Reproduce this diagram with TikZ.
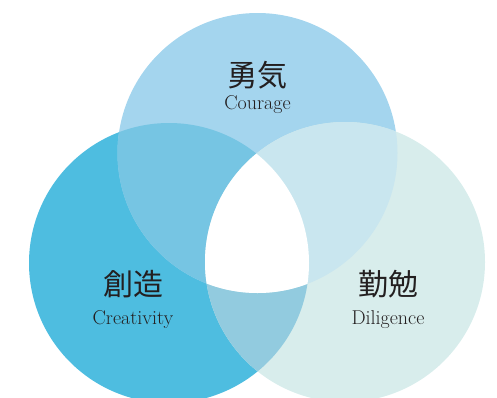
\documentclass[tikz,border=0pt]{standalone}
\usepackage{fontspec}
\newfontfamily\cjk{Noto Sans CJK JP}
\definecolor{cA}{HTML}{4EBDE0}
\definecolor{cT}{HTML}{A4D5EE}
\definecolor{cR}{HTML}{D8EDEC}
\definecolor{cAT}{HTML}{76C5E3}
\definecolor{cTR}{HTML}{C9E6EF}
\definecolor{cAR}{HTML}{92CBDF}
\definecolor{txt}{HTML}{231F20}
\tikzset{
  jp/.style={font=\cjk\fontsize{30}{33}\selectfont, text=txt, inner sep=0pt},
  en/.style={font=\fontsize{20}{23}\selectfont, text=txt, inner sep=0pt},
}
\def\rr{140}
\begin{document}
\begin{tikzpicture}[x=1pt,y=-1pt]
\useasboundingbox (0,0) rectangle (497,397);
\clip (0,0) rectangle (497,397);
\coordinate (T) at (257.5,153);
\coordinate (L) at (169,263);
\coordinate (R) at (345,262);
\fill[cA] (L) circle (\rr);
\fill[cT] (T) circle (\rr);
\fill[cR] (R) circle (\rr);
\begin{scope}
  \clip (L) circle (\rr);
  \fill[cAT] (T) circle (\rr);
  \fill[cAR] (R) circle (\rr);
\end{scope}
\begin{scope}
  \clip (T) circle (\rr);
  \fill[cTR] (R) circle (\rr);
\end{scope}
\begin{scope}
  \clip (L) circle (\rr);
  \clip (T) circle (\rr);
  \fill[white] (R) circle (\rr);
\end{scope}
\node[jp] (jT) at (257.5,75) {勇気};
\node[en, anchor=base] (eT) at (257.5,109) {Courage};
\node[jp] (jL) at (133,284) {創造};
\node[en, anchor=base] (eL) at (133,324) {Creativity};
\node[jp] (jR) at (388,284) {勤勉};
\node[en, anchor=base] (eR) at (388,324) {Diligence};
\end{tikzpicture}
\end{document}
